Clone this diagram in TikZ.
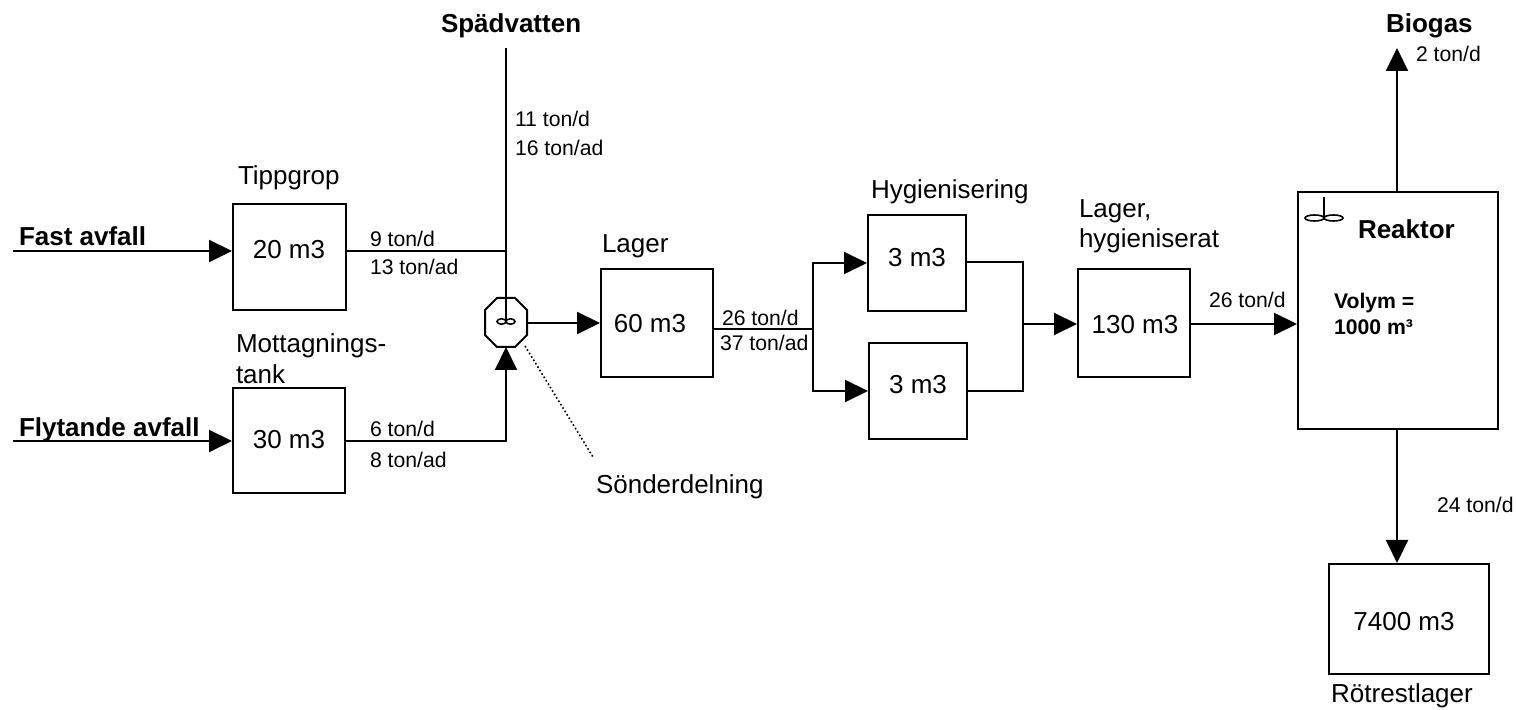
\documentclass[tikz,border=0pt]{standalone}
\usepackage{fontspec}
\setmainfont{Liberation Sans}
\usetikzlibrary{arrows.meta}
\begin{document}
\begin{tikzpicture}[x=0.5pt,y=-0.5pt,
  line width=1pt,
  box/.style={draw,line width=1pt,inner sep=0pt},
  big/.style={font=\fontsize{13}{15.6}\selectfont,inner sep=0pt},
  bigb/.style={font=\fontsize{13}{15.6}\selectfont\bfseries,inner sep=0pt},
  small/.style={font=\fontsize{10.6}{12.7}\selectfont,inner sep=0pt},
  smallb/.style={font=\fontsize{10.6}{12.7}\selectfont\bfseries,inner sep=0pt},
  flow/.style={-{Triangle[length=11.5pt,width=11pt]}},
  pipe/.style={line cap=rect},
  dotline/.style={line width=0.8pt,dash pattern=on 0.8pt off 1.2pt}
]
\useasboundingbox (0,0) rectangle (1516,710);

% boxes
\node[box,minimum width=56.5pt,minimum height=53pt] (tipp) at (289.5,257) {};
\node[box,minimum width=56pt,minimum height=52.5pt] (mott) at (289,440.5) {};
\node[box,minimum width=56pt,minimum height=54pt] (lager) at (657,323) {};
\node[box,minimum width=49pt,minimum height=48pt] (hyg1) at (917,263) {};
\node[box,minimum width=49pt,minimum height=48pt] (hyg2) at (918,391) {};
\node[box,minimum width=56pt,minimum height=54pt] (lagerh) at (1134,323) {};
\node[box,minimum width=100pt,minimum height=118.5pt] (reak) at (1398,310.5) {};
\node[box,minimum width=80pt,minimum height=55pt] (rot) at (1409,619) {};

% mixer (octagon)
\node[minimum width=21pt,minimum height=24.5pt,inner sep=0pt] (mix) at (506,322.5) {};
\draw (485,310)--(497,298)--(515,298)--(527,310)--(527,335)--(515,347)--(497,347)--(485,335)--cycle;
\draw[line width=0.8pt] (501.5,321.5) ellipse [x radius=4.5, y radius=2.7];
\draw[line width=0.8pt] (510.5,321.5) ellipse [x radius=4.5, y radius=2.7];

% reactor stirrer
\draw[line width=0.8pt] (1324,197) -- (1324,217);
\draw[line width=0.8pt] (1314.5,218) ellipse [x radius=9.5, y radius=3];
\draw[line width=0.8pt] (1333.5,218) ellipse [x radius=9.5, y radius=3];

% coordinates
\coordinate (fa) at (13,251);
\coordinate (fl) at (13,441);
\coordinate (sp) at (506,48);
\coordinate (mixc) at (506,321);
\coordinate (j1) at (506,251);
\coordinate (j2) at (506,441);
\coordinate (br) at (813,329);
\coordinate (brT) at (813,263);
\coordinate (brB) at (813,391);
\coordinate (mgT) at (1023,262);
\coordinate (mgB) at (1023,391);
\coordinate (mg) at (1023,324);
\coordinate (bio) at (1397,48);
\coordinate (sd) at (593,457);

% connectors
\draw[flow] (fa) -- (fa -| tipp.west);
\draw[flow] (fl) -- (fl -| mott.west);
\draw (sp) -- (mixc);
\draw (tipp.east |- j1) -- (j1);
\draw[flow] (mott.east |- j2) -- (j2) -- (506,347);
\draw[flow] (527,323) -- (lager.west |- 0,323);
\draw[dotline] (525,346) -- (sd);
\draw[pipe] (lager.east |- br) -- (br);
\draw[pipe] (brT) -- (brB);
\draw[flow] (brT) -- (brT -| hyg1.west);
\draw[flow] (brB) -- (brB -| hyg2.west);
\draw[pipe] (hyg1.east |- mgT) -- (mgT) -- (mgB) -- (hyg2.east |- mgB);
\draw[flow] (mg) -- (mg -| lagerh.west);
\draw[flow] (lagerh.east |- 0,324) -- (reak.west |- 0,324);
\draw[flow] (reak.north -| bio) -- (bio);
\draw[flow] (reak.south -| 1397,0) -- (rot.north -| 1397,0);

% texts
\node[bigb,anchor=base west] (t1) at (18,246) {Fast avfall};
\node[bigb,anchor=base west] (t2) at (18,437) {Flytande avfall};
\node[big,anchor=base west] (t3) at (237,185) {Tippgrop};
\node[big,anchor=base west] (t4) at (235,353) {Mottagnings-};
\node[big,anchor=base west] (t5) at (235,384) {tank};
\node[big,anchor=base] (t6) at (289,259) {20 m3};
\node[big,anchor=base] (t7) at (289,449) {30 m3};
\node[small,anchor=base west] (t8) at (369,247) {9 ton/d};
\node[small,anchor=base west] (t9) at (369,275) {13 ton/ad};
\node[small,anchor=base west] (t10) at (369,437) {6 ton/d};
\node[small,anchor=base west] (t11) at (369,468) {8 ton/ad};
\node[bigb,anchor=base west] (t12) at (440,33) {Spädvatten};
\node[small,anchor=base west] (t13) at (514,127) {11 ton/d};
\node[small,anchor=base west] (t14) at (514,156) {16 ton/ad};
\node[big,anchor=base west] (t15) at (601,253) {Lager};
\node[big,anchor=base] (t16) at (650,333) {60 m3};
\node[small,anchor=base west] (t17) at (721,326) {26 ton/d};
\node[small,anchor=base west] (t18) at (719,351) {37 ton/ad};
\node[big,anchor=base west] (t19) at (595,494) {Sönderdelning};
\node[big,anchor=base west] (t20) at (870,199) {Hygienisering};
\node[big,anchor=base] (t21) at (917,267) {3 m3};
\node[big,anchor=base] (t22) at (918,394) {3 m3};
\node[big,anchor=base west] (t23) at (1078,218) {Lager,};
\node[big,anchor=base west] (t24) at (1078,248) {hygieniserat};
\node[big,anchor=base] (t25) at (1135,334) {130 m3};
\node[small,anchor=base west] (t26) at (1208,308) {26 ton/d};
\node[bigb,anchor=base west] (t27) at (1357,239) {Reaktor};
\node[smallb,anchor=base west] (t28) at (1333,309) {Volym =};
\node[smallb,anchor=base west] (t29) at (1333,335) {1000 m³};
\node[bigb,anchor=base west] (t30) at (1385,33) {Biogas};
\node[small,anchor=base west] (t31) at (1415,62) {2 ton/d};
\node[small,anchor=base west] (t32) at (1436,513) {24 ton/d};
\node[big,anchor=base] (t33) at (1404,631) {7400 m3};
\node[big,anchor=base] (t34) at (1402,703) {Rötrestlager};
\end{tikzpicture}
\end{document}
